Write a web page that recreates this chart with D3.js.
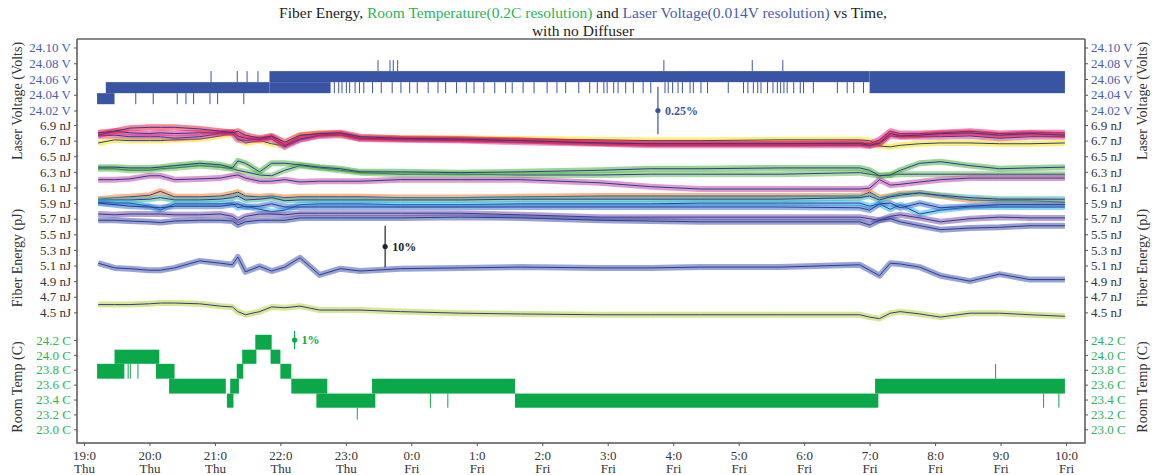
<!DOCTYPE html>
<html lang="en">
<head>
<meta charset="UTF-8">
<title>Fiber Energy vs Time</title>
<script src="https://cdn.jsdelivr.net/npm/d3@7"></script>
<style>
  body { margin: 0; background: #fff; }
  svg, svg text { font-family: "Liberation Serif", "Times New Roman", "DejaVu Serif", serif; }
</style>
</head>
<body>
<div id="chart"></div>
<script>
// ---- data (times are minutes after 19:00 on Thursday) ----
const sampleMinutes = [13, 28, 42, 60, 70, 83, 106, 125, 136, 141, 148, 161, 172, 184, 198, 216, 235, 253, 290, 345, 400, 473, 519, 565, 638, 711, 720, 729, 739, 748, 766, 785, 812, 839, 867, 899];

// fiber energies in nJ, one value per sample time
const fiberRed = [6.80,6.82,6.86,6.87,6.87,6.87,6.85,6.82,6.80,6.82,6.77,6.73,6.76,6.68,6.77,6.79,6.80,6.75,6.73,6.72,6.70,6.67,6.66,6.66,6.66,6.66,6.64,6.67,6.79,6.76,6.77,6.79,6.80,6.77,6.79,6.77];
const fiberMagenta = [6.77,6.82,6.80,6.79,6.80,6.79,6.80,6.80,6.81,6.76,6.73,6.71,6.75,6.64,6.72,6.77,6.79,6.73,6.72,6.71,6.70,6.67,6.66,6.66,6.66,6.67,6.66,6.71,6.82,6.79,6.79,6.80,6.82,6.79,6.80,6.80];
const fiberPink = [6.76,6.77,6.75,6.75,6.75,6.73,6.75,6.79,6.80,6.71,6.70,6.72,6.72,6.62,6.71,6.76,6.77,6.72,6.71,6.70,6.68,6.66,6.64,6.64,6.64,6.64,6.63,6.66,6.76,6.75,6.75,6.75,6.76,6.73,6.75,6.75];
const fiberYellow = [6.67,6.71,6.70,6.70,6.70,6.71,6.72,6.76,6.79,6.73,6.67,6.70,6.66,6.63,6.76,6.79,6.77,6.73,6.73,6.73,6.72,6.71,6.70,6.70,6.71,6.71,6.70,6.63,6.62,6.64,6.66,6.67,6.67,6.66,6.66,6.67];
const fiberGreenA = [6.36,6.36,6.35,6.35,6.36,6.38,6.41,6.39,6.35,6.44,6.41,6.30,6.41,6.41,6.39,6.36,6.34,6.30,6.30,6.29,6.30,6.32,6.34,6.34,6.35,6.35,6.32,6.25,6.26,6.32,6.41,6.43,6.38,6.34,6.35,6.36];
const fiberGreenB = [6.34,6.34,6.32,6.32,6.34,6.35,6.38,6.36,6.34,6.32,6.30,6.26,6.25,6.32,6.38,6.35,6.32,6.29,6.27,6.27,6.26,6.26,6.27,6.27,6.27,6.29,6.27,6.25,6.26,6.27,6.27,6.27,6.27,6.27,6.27,6.27];
const fiberOrchid = [6.20,6.20,6.21,6.25,6.25,6.20,6.21,6.22,6.25,6.26,6.22,6.18,6.18,6.20,6.17,6.18,6.18,6.18,6.20,6.20,6.20,6.16,6.11,6.08,6.08,6.08,6.09,6.20,6.13,6.14,6.17,6.20,6.22,6.22,6.22,6.22];
const fiberOrange = [5.95,5.97,5.98,6.00,6.05,5.98,5.98,5.99,6.02,6.04,5.99,5.98,5.99,5.97,5.98,5.98,5.98,5.98,5.97,5.97,5.98,5.99,5.99,5.99,5.99,5.99,6.04,5.97,5.99,6.02,6.03,5.99,5.94,5.93,5.93,5.91];
const fiberTeal = [5.94,5.94,5.94,5.95,5.97,5.94,5.94,5.95,5.97,5.99,5.94,5.95,5.97,5.93,5.94,5.94,5.94,5.94,5.94,5.94,5.95,5.95,5.95,5.95,5.95,5.97,5.99,5.94,5.98,6.00,6.03,6.00,5.97,5.95,5.95,5.95];
const fiberCyan = [5.91,5.90,5.90,5.86,5.81,5.89,5.89,5.89,5.90,5.84,5.86,5.82,5.79,5.81,5.88,5.89,5.89,5.89,5.88,5.88,5.89,5.89,5.89,5.90,5.90,5.90,5.86,5.89,5.82,5.88,5.76,5.81,5.85,5.85,5.85,5.85];
const fiberAzure = [5.90,5.88,5.86,5.85,5.84,5.86,5.86,5.86,5.88,5.89,5.85,5.86,5.89,5.85,5.85,5.85,5.85,5.85,5.85,5.85,5.85,5.85,5.85,5.85,5.85,5.84,5.81,5.89,5.90,5.84,5.90,5.84,5.86,5.88,5.88,5.88];
const fiberPurple = [5.76,5.75,5.76,5.76,5.76,5.75,5.75,5.76,5.73,5.68,5.73,5.76,5.76,5.75,5.77,5.77,5.77,5.77,5.77,5.77,5.75,5.72,5.72,5.72,5.72,5.72,5.70,5.68,5.73,5.75,5.71,5.66,5.70,5.72,5.71,5.71];
const fiberIndigo = [5.68,5.68,5.67,5.66,5.65,5.67,5.68,5.68,5.67,5.62,5.66,5.68,5.68,5.68,5.71,5.71,5.71,5.71,5.71,5.72,5.71,5.68,5.67,5.66,5.66,5.66,5.62,5.68,5.70,5.66,5.61,5.56,5.58,5.59,5.61,5.61];
const fiberBlue = [5.13,5.07,5.06,5.04,5.04,5.07,5.16,5.13,5.11,5.21,5.02,5.09,5.03,5.08,5.20,4.98,5.06,5.03,5.06,5.07,5.08,5.07,5.07,5.08,5.08,5.11,5.04,4.97,5.13,5.12,5.08,4.97,4.90,4.99,4.92,4.92];
const fiberLime = [4.60,4.60,4.60,4.61,4.62,4.62,4.61,4.58,4.57,4.51,4.47,4.51,4.57,4.56,4.58,4.53,4.53,4.53,4.51,4.49,4.48,4.47,4.47,4.47,4.47,4.47,4.44,4.42,4.49,4.51,4.48,4.44,4.49,4.49,4.47,4.45];

const fiberSeries = [
  { values: fiberYellow, color: "#f4e400" },
  { values: fiberPink, color: "#c9479f" },
  { values: fiberMagenta, color: "#dc2a86" },
  { values: fiberRed, color: "#ee1f3b" },
  { values: fiberGreenB, color: "#66bb55" },
  { values: fiberGreenA, color: "#48b040" },
  { values: fiberOrchid, color: "#c24aa6" },
  { values: fiberOrange, color: "#f47a2a" },
  { values: fiberTeal, color: "#3cb5a0" },
  { values: fiberCyan, color: "#29b6ea" },
  { values: fiberAzure, color: "#3b78d2" },
  { values: fiberPurple, color: "#7b53a9" },
  { values: fiberIndigo, color: "#4152a8" },
  { values: fiberBlue, color: "#4159b2" },
  { values: fiberLime, color: "#b8d435" }
];

// laser voltage: quantised levels (0.014 V) the reading flickers between
const voltBands = [ // [start, end, low, high]
  [12, 28, 24.028, 24.042],
  [20, 170, 24.042, 24.056],
  [170, 720, 24.056, 24.070],
  [170, 226, 24.042, 24.056],
  [720, 899, 24.042, 24.070]
];
const voltDropsEarly = [47, 63, 85, 93, 100, 115, 122, 146];          // 24.042 -> 24.028
const voltJumpsEarly = [116, 140, 149, 159];                          // 24.056 -> 24.070
const voltDrops = [229, 233, 236, 240, 243, 248, 252, 256,
  264, 272, 282, 290, 298, 305, 315, 324, 331, 341, 350, 357, 366, 376, 386, 392, 402, 412, 424, 433, 441, 453, 463, 470,
  476, 479, 485, 489, 496, 503, 512, 519, 532, 535, 539, 544, 548, 555, 558, 565, 571, 590, 604, 608, 613, 617, 620, 626,
  631, 635, 638, 641, 644, 650, 656, 659, 668, 690, 699, 705, 714];   // 24.056 -> 24.042
const voltJumps = [269, 280, 283, 287, 531, 612, 640];                // 24.070 -> 24.084

// room temperature: quantised levels (about 0.2 C)
const tempBands = [ // [start, end, low, high]
  [12, 37, 23.68, 23.88],
  [28, 69, 23.88, 24.07],
  [66, 83, 23.68, 23.88],
  [78, 130, 23.48, 23.68],
  [131, 137, 23.29, 23.48],
  [134, 142, 23.48, 23.68],
  [140, 146, 23.68, 23.88],
  [145, 158, 23.88, 24.07],
  [157, 172, 24.07, 24.27],
  [171, 180, 23.88, 24.07],
  [180, 190, 23.68, 23.88],
  [190, 223, 23.48, 23.68],
  [213, 267, 23.29, 23.48],
  [264, 395, 23.48, 23.68],
  [395, 728, 23.29, 23.48],
  [725, 899, 23.48, 23.68]
];
const tempSpikes = [ // [time, from, to]
  [40, 23.88, 23.68], [42, 23.88, 23.68], [49, 23.88, 23.68],
  [250, 23.29, 23.13],
  [317, 23.48, 23.29], [333, 23.48, 23.29],
  [835, 23.68, 23.88], [879, 23.48, 23.29], [893, 23.48, 23.29]
];

// error bars: [time, centre value, total percent]
const voltError = [526, 24.02, 0.25];
const fiberError = [276, 5.344, 10];
const tempError = [193, 24.2, 1];

const voltTicks = [24.02, 24.04, 24.06, 24.08, 24.10];
const fiberTicks = [4.5, 4.7, 4.9, 5.1, 5.3, 5.5, 5.7, 5.9, 6.1, 6.3, 6.5, 6.7, 6.9];
const tempTicks = [23.0, 23.2, 23.4, 23.6, 23.8, 24.0, 24.2];

// ---- drawing ----
const width = 1152, height = 475;
const plotLeft = 77, plotRight = 1085, plotTop = 39, plotBottom = 443;
const voltColor = "#3a54a4", tempColor = "#0ba84a";
const voltLabel = "#4a5eab", tempLabel = "#2bb35a", inkColor = "#333";
const serif = "\"Liberation Serif\", \"Times New Roman\", \"DejaVu Serif\", serif";

const t0 = new Date(2013, 0, 3, 19, 0); // a Thursday
const at = m => new Date(t0.getTime() + m * 60000);

const x = d3.scaleTime().domain([at(-6.4), at(917.4)]).range([plotLeft, plotRight]);
const yV = d3.scaleLinear().domain([24.02, 24.10]).range([110.5, 47.5]);
const yE = d3.scaleLinear().domain([4.5, 6.9]).range([312.4, 125]);
const yT = d3.scaleLinear().domain([23.0, 24.2]).range([429.3, 340]);

const svg = d3.select("#chart").append("svg")
  .attr("width", width).attr("height", height)
  .attr("font-family", serif);

// title
const title = svg.append("text")
  .attr("x", 583).attr("y", 18)
  .attr("text-anchor", "middle")
  .style("font-size", "15.5px")
  .attr("fill", "#222");
title.append("tspan").text("Fiber Energy, ");
title.append("tspan").attr("fill", tempLabel).text("Room Temperature(0.2C resolution)");
title.append("tspan").text(" and ");
title.append("tspan").attr("fill", voltLabel).text("Laser Voltage(0.014V resolution)");
title.append("tspan").text(" vs Time,");
svg.append("text")
  .attr("x", 583).attr("y", 36)
  .attr("text-anchor", "middle")
  .style("font-size", "15.5px")
  .attr("fill", "#222")
  .text("with no Diffuser");

// voltage
const gV = svg.append("g").attr("fill", voltColor).attr("stroke", voltColor);
gV.selectAll("rect").data(voltBands).join("rect")
  .attr("stroke", "none")
  .attr("x", d => x(at(d[0])))
  .attr("width", d => x(at(d[1])) - x(at(d[0])))
  .attr("y", d => yV(d[3]))
  .attr("height", d => yV(d[2]) - yV(d[3]));

const spikes = (g, times, v1, v2, y) => g.append("g").selectAll("line").data(times).join("line")
  .attr("x1", d => x(at(d)) + 0.5).attr("x2", d => x(at(d)) + 0.5)
  .attr("y1", y(v1)).attr("y2", y(v2))
  .attr("stroke-width", 1);
spikes(gV, voltDropsEarly, 24.042, 24.028, yV);
spikes(gV, voltJumpsEarly, 24.056, 24.070, yV);
spikes(gV, voltDrops, 24.056, 24.042, yV);
spikes(gV, voltJumps, 24.070, 24.084, yV);

// fiber energies
const line = d3.line()
  .x((d, i) => x(at(sampleMinutes[i])))
  .y(d => yE(d));
const gE = svg.append("g").attr("fill", "none").attr("stroke-linejoin", "round");
fiberSeries.forEach(s => {
  gE.append("path")
    .attr("d", line(s.values))
    .attr("stroke", s.color)
    .attr("stroke-opacity", 0.55)
    .attr("stroke-width", 6);
  gE.append("path")
    .attr("d", line(s.values))
    .attr("stroke", "#2e3b92")
    .attr("stroke-width", 1);
});

// temperature
const gT = svg.append("g").attr("fill", tempColor).attr("stroke", tempColor);
gT.selectAll("rect").data(tempBands).join("rect")
  .attr("stroke", "none")
  .attr("x", d => x(at(d[0])))
  .attr("width", d => x(at(d[1])) - x(at(d[0])))
  .attr("y", d => yT(d[3]))
  .attr("height", d => yT(d[2]) - yT(d[3]));
gT.append("g").selectAll("line").data(tempSpikes).join("line")
  .attr("x1", d => x(at(d[0])) + 0.5).attr("x2", d => x(at(d[0])) + 0.5)
  .attr("y1", d => yT(d[1])).attr("y2", d => yT(d[2]))
  .attr("stroke-width", 1);

// error bars
function errorBar(e, y, color, fmt) {
  const [m, v, pct] = e;
  const half = v * pct / 200;
  const cx = x(at(m));
  const g = svg.append("g").attr("fill", color).attr("stroke", color);
  g.append("line")
    .attr("x1", cx).attr("x2", cx)
    .attr("y1", y(v - half)).attr("y2", y(v + half))
    .attr("stroke-width", 1.2);
  g.append("circle").attr("cx", cx).attr("cy", y(v)).attr("r", 2.6).attr("stroke", "none");
  g.append("text")
    .attr("x", cx + 7).attr("y", y(v)).attr("dy", "0.35em")
    .attr("stroke", "none")
    .style("font-size", "12px").style("font-weight", "bold")
    .text(fmt);
}
errorBar(voltError, yV, voltColor, "0.25%");
errorBar(fiberError, yE, "#222", "10%");
errorBar(tempError, yT, tempColor, "1%");

// axes
function yAxes(scale, ticks, fmt, color) {
  const gl = svg.append("g").attr("transform", `translate(${plotLeft},0)`)
    .call(d3.axisLeft(scale).tickValues(ticks).tickFormat(fmt).tickSize(3).tickPadding(3));
  const gr = svg.append("g").attr("transform", `translate(${plotRight},0)`)
    .call(d3.axisRight(scale).tickValues(ticks).tickFormat(fmt).tickSize(3).tickPadding(3));
  [gl, gr].forEach(g => {
    g.attr("font-family", serif).attr("font-size", 13);
    g.select(".domain").remove();
    g.selectAll(".tick line").attr("stroke", "#555");
    g.selectAll(".tick text").attr("fill", color);
  });
}
yAxes(yV, voltTicks, d => d3.format(".2f")(d) + " V", voltLabel);
yAxes(yE, fiberTicks, d => d3.format(".1f")(d) + " nJ", inkColor);
yAxes(yT, tempTicks, d => d3.format(".1f")(d) + " C", tempLabel);

const hours = x.ticks(d3.timeHour.every(1));
const gx = svg.append("g").attr("transform", `translate(0,${plotBottom})`)
  .call(d3.axisBottom(x).tickValues(hours).tickSize(3).tickFormat(""));
gx.attr("font-family", serif).attr("font-size", 13);
gx.select(".domain").remove();
gx.selectAll(".tick line").attr("stroke", "#555");
gx.selectAll(".tick").append("text")
  .attr("y", 16.5).attr("fill", inkColor).attr("text-anchor", "middle")
  .text(d => d.getHours() + ":0");
gx.selectAll(".tick").append("text")
  .attr("y", 30).attr("fill", inkColor).attr("text-anchor", "middle")
  .text(d => d3.timeFormat("%a")(d));

// frame
svg.append("line").attr("x1", plotLeft).attr("x2", plotRight).attr("y1", plotTop).attr("y2", plotTop)
  .attr("stroke", "#8a8a8a").attr("stroke-width", 2);
svg.append("path")
  .attr("d", `M${plotLeft},${plotTop}V${plotBottom}H${plotRight}V${plotTop}`)
  .attr("fill", "none").attr("stroke", "#555").attr("stroke-width", 1.5);

// axis titles
const axisTitles = [
  ["Laser Voltage (Volts)", 101], ["Fiber Energy (pJ)", 258], ["Room Temp (C)", 387]
];
[18, 1143].forEach(tx => {
  axisTitles.forEach(([label, ty]) => {
    svg.append("text")
      .attr("transform", `translate(${tx + 4},${ty}) rotate(-90)`)
      .attr("text-anchor", "middle")
      .attr("fill", "#333")
      .style("font-size", "14px")
      .text(label);
  });
});
</script>
</body>
</html>
